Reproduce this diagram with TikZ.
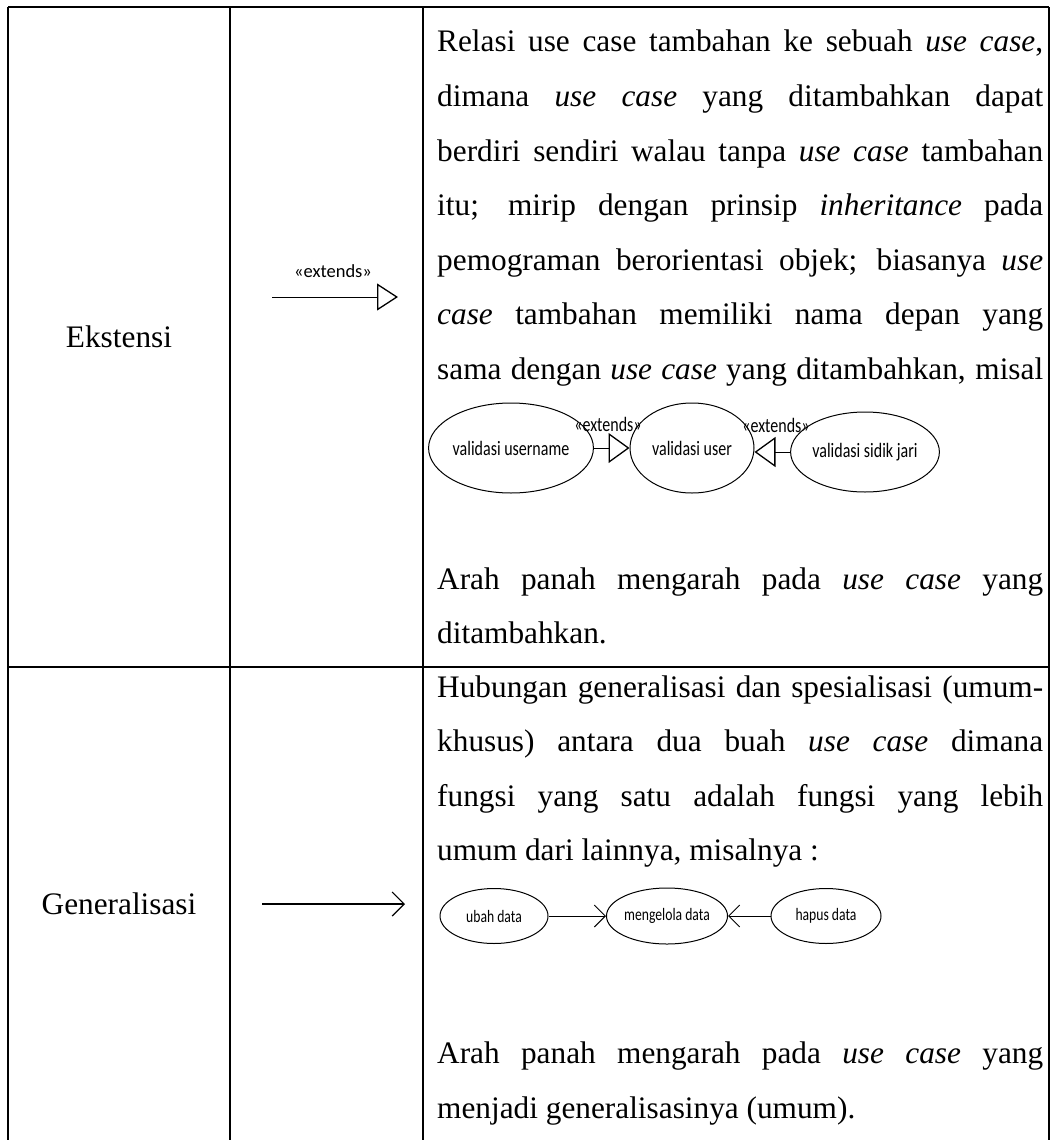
\documentclass[tikz,border=0pt]{standalone}
\usepackage{fontspec}
\setmainfont{Liberation Serif}
\newfontfamily\calfont{Carlito}
\newfontfamily\calnarrow[FakeStretch=0.78]{Carlito}
\usetikzlibrary{arrows.meta,shapes.geometric}

\begin{document}
\begin{tikzpicture}[x=1pt,y=-1pt,
  rule/.style={line width=1.3pt},
  body/.style={anchor=base west, inner sep=0pt, font=\fontsize{31.3}{36}\selectfont},
  rowhead/.style={inner sep=0pt, font=\fontsize{31.3}{36}\selectfont},
  uc/.style={ellipse, draw, line width=1pt, inner sep=0pt, font=\calnarrow\fontsize{20.5}{24}\selectfont},
  ucs/.style={ellipse, draw, line width=1pt, inner sep=0pt, font=\calnarrow\fontsize{17.5}{21}\selectfont},
  stereo/.style={inner sep=0pt, font=\calnarrow\fontsize{20.5}{24}\selectfont},
  stereobig/.style={inner sep=0pt, font=\calfont\fontsize{18.5}{22}\selectfont},
  ext/.style={line width=1pt, -{Triangle[open,length=21pt,width=30pt,line width=1.3pt]}},
  extbig/.style={line width=1pt, -{Triangle[open,length=21pt,width=27pt,line width=1.3pt]}},
  gen/.style={line width=1pt, -{Straight Barb[length=11pt,width=22pt,line width=1pt]}},
  genbig/.style={line width=1.2pt, -{Straight Barb[length=12pt,width=24pt,line width=1.2pt]}}
]
\useasboundingbox (0,0) rectangle (1057,1140);

% table grid
\draw[rule] (8,7) -- (1049,7);
\draw[rule] (8,667) -- (1049,667);
\draw[rule] (8,7) -- (8,1140);
\draw[rule] (230,7) -- (230,1140);
\draw[rule] (423,7) -- (423,1140);
\draw[rule] (1049,7) -- (1049,1140);

% row titles
\node[rowhead] (ekst) at (119,337) {Ekstensi};
\node[rowhead] (gnrl) at (119,904) {Generalisasi};

% notation column
\coordinate (ea) at (272,297);
\coordinate (eb) at (398,297);
\draw[extbig] (ea) -- (eb);
\node[stereobig] (elab) at (333,271) {«extends»};

\coordinate (ga) at (262,904);
\coordinate (gb) at (405,904);
\draw[genbig] (ga) -- (gb);

% description: extension
\def\W{606pt}
\node[body] (e1) at (437,52)    {\makebox[\W][s]{Relasi use case tambahan ke sebuah \textit{use case},}};
\node[body] (e2) at (437,106.5) {\makebox[\W][s]{dimana \textit{use case} yang ditambahkan dapat}};
\node[body] (e3) at (437,161)   {\makebox[\W][s]{berdiri sendiri walau tanpa \textit{use case} tambahan}};
\node[body] (e4) at (437,215.5) {\makebox[\W][s]{itu; mirip dengan prinsip \textit{inheritance} pada}};
\node[body] (e5) at (437,270)   {\makebox[\W][s]{pemograman berorientasi objek; biasanya \textit{use}}};
\node[body] (e6) at (437,324.5) {\makebox[\W][s]{\textit{case} tambahan memiliki nama depan yang}};
\node[body] (e7) at (437,379)   {\makebox[\W][s]{sama dengan \textit{use case} yang ditambahkan, misal}};

\node[uc, minimum width=142pt, minimum height=90pt] (u1) at (511,448) {validasi username};
\node[uc, minimum width=124pt, minimum height=90pt] (u2) at (692,448) {validasi user};
\node[uc, minimum width=130pt, minimum height=80pt] (u3) at (865,452) {validasi sidik jari};
\draw[ext] (u1.east) -- (u2.west);
\draw[ext] (u3.west) -- (u2.east |- u3.west);
\node[stereo] (s1) at (608,424) {«extends»};
\node[stereo] (s2) at (776,425) {«extends»};

\node[body] (e8) at (437,589)   {\makebox[\W][s]{Arah panah mengarah pada \textit{use case} yang}};
\node[body] (e9) at (437,643.5) {ditambahkan.};

% description: generalisation
\node[body] (g1t) at (437,697)   {\makebox[\W][s]{Hubungan generalisasi dan spesialisasi (umum-}};
\node[body] (g2t) at (437,751.5) {\makebox[\W][s]{khusus) antara dua buah \textit{use case} dimana}};
\node[body] (g3t) at (437,806)   {\makebox[\W][s]{fungsi yang satu adalah fungsi yang lebih}};
\node[body] (g4t) at (437,860.5) {umum dari lainnya, misalnya :};

\node[ucs, minimum width=108pt, minimum height=55pt] (g1) at (494,916) {ubah data};
\node[ucs, minimum width=112pt, minimum height=56pt] (g2) at (667,916) {mengelola data};
\node[ucs, minimum width=110pt, minimum height=55pt] (g3) at (826,916) {hapus data};
\draw[gen] (g1) -- (g2);
\draw[gen] (g3) -- (g2);

\node[body] (g5t) at (437,1063.5) {\makebox[\W][s]{Arah panah mengarah pada \textit{use case} yang}};
\node[body] (g6t) at (437,1118)   {menjadi generalisasinya (umum).};
\end{tikzpicture}
\end{document}
